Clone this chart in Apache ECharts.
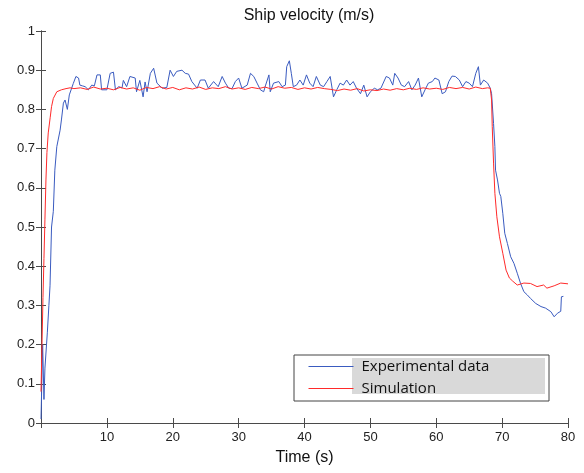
<!DOCTYPE html>
<html>
<head>
<meta charset="utf-8">
<script src="https://cdn.jsdelivr.net/npm/echarts@6/dist/echarts.min.js"></script>
<style>html,body{margin:0;padding:0;background:#fff}#c{width:584px;height:473px}</style>
</head>
<body>
<div id="c"></div>
<script>
// Experimental data (time s, velocity m/s)
var expTime = [0,0.1,0.25,0.45,0.6,0.85,0.96,1.2,1.37,1.6,1.87,2.1,2.4,2.9,3.1,3.4,3.65,4.0,4.3,4.6,4.9,5.3,5.7,5.9,6.3,6.7,7.2,7.7,8.1,8.5,9.0,9.2,10.0,10.5,11.0,11.3,11.8,12.3,12.5,13.0,13.5,14.3,14.5,15.0,15.5,15.8,16.1,16.6,17.1,17.6,18.4,19.1,19.6,20.1,20.6,21.4,21.9,22.4,22.9,23.7,24.2,24.9,25.4,26.2,26.9,27.5,28.0,28.5,29.0,29.5,30.0,30.5,31.3,31.8,32.3,32.8,33.3,33.8,34.1,34.6,34.8,35.3,36.1,36.6,37.1,37.3,37.7,38.0,38.3,38.8,39.3,39.8,40.3,40.8,41.3,41.8,42.4,42.9,43.4,43.9,44.2,44.4,44.9,45.4,45.9,46.4,46.9,47.4,47.9,48.5,49.0,49.5,50.0,50.6,51.1,51.6,52.4,52.9,53.4,53.7,54.2,54.7,55.2,55.8,56.3,56.8,57.3,57.8,58.3,58.8,59.4,59.8,60.4,60.9,61.4,61.9,62.4,62.9,63.5,64.0,64.5,65.0,65.5,66.0,66.4,66.7,67.2,67.5,67.8,68.2,68.4,68.7,68.9,69.0,69.3,69.6,69.8,70.1,70.4,70.8,71.3,71.8,72.3,72.8,73.3,73.8,74.3,75.1,75.9,76.6,77.4,77.9,78.4,78.9,79.0,79.3];
var expVel = [0.01,0.008,0.2,0.06,0.14,0.135,0.23,0.30,0.35,0.5,0.54,0.645,0.705,0.747,0.773,0.816,0.824,0.80,0.837,0.837,0.866,0.884,0.88,0.862,0.86,0.858,0.85,0.862,0.86,0.888,0.888,0.85,0.85,0.892,0.895,0.85,0.858,0.855,0.874,0.858,0.884,0.88,0.845,0.874,0.832,0.87,0.845,0.892,0.905,0.867,0.854,0.856,0.9,0.884,0.897,0.9,0.892,0.89,0.871,0.854,0.875,0.875,0.854,0.871,0.858,0.884,0.867,0.854,0.853,0.871,0.88,0.854,0.862,0.892,0.884,0.867,0.85,0.845,0.862,0.888,0.845,0.867,0.871,0.858,0.862,0.909,0.924,0.892,0.858,0.862,0.875,0.862,0.888,0.867,0.858,0.884,0.862,0.858,0.871,0.884,0.888,0.832,0.85,0.867,0.862,0.875,0.862,0.871,0.854,0.84,0.862,0.832,0.845,0.854,0.85,0.854,0.884,0.88,0.862,0.892,0.88,0.862,0.858,0.871,0.85,0.862,0.88,0.832,0.85,0.867,0.871,0.88,0.875,0.84,0.845,0.871,0.885,0.884,0.875,0.858,0.871,0.867,0.858,0.892,0.909,0.862,0.875,0.871,0.867,0.854,0.84,0.764,0.705,0.645,0.62,0.586,0.578,0.535,0.484,0.458,0.424,0.407,0.382,0.356,0.335,0.327,0.318,0.305,0.297,0.293,0.284,0.271,0.28,0.285,0.322,0.323];
// Simulation (time s, velocity m/s)
var simTime = [0,0.15,0.3,0.45,0.6,0.75,0.9,1.1,1.4,1.6,1.87,2.4,3.1,3.8,4.4,5,6,7,8,9,10,11,12,13,14,15,16,17,18,19,20,21,22,23,24,25,26,27,28,29,30,31,32,33,34,35,36,37,38,39,40,41,42,43,44,45,46,47,48,49,50,51,52,53,54,55,56,57,58,59,60,61,62,63,64,65,66,67,67.8,68.2,68.4,68.5,68.7,68.9,69.2,69.6,70.1,70.6,71.1,71.6,72.3,73.3,74.3,75.3,76.3,76.8,77.9,78.9,80];
var simVel = [0.08,0.2,0.32,0.42,0.52,0.62,0.69,0.74,0.78,0.807,0.828,0.845,0.85,0.853,0.855,0.853,0.855,0.851,0.857,0.852,0.854,0.85,0.856,0.852,0.855,0.849,0.856,0.853,0.858,0.852,0.856,0.85,0.855,0.852,0.857,0.851,0.855,0.853,0.858,0.852,0.855,0.851,0.856,0.853,0.857,0.852,0.858,0.854,0.856,0.851,0.855,0.852,0.856,0.853,0.851,0.848,0.852,0.849,0.853,0.847,0.85,0.848,0.852,0.849,0.853,0.85,0.854,0.851,0.855,0.852,0.854,0.851,0.856,0.853,0.856,0.852,0.857,0.853,0.855,0.854,0.824,0.756,0.663,0.586,0.526,0.475,0.433,0.39,0.37,0.362,0.352,0.357,0.356,0.348,0.352,0.344,0.35,0.357,0.355];
var xTicks = [0,10,20,30,40,50,60,70,80];
var yTicks = [0,0.1,0.2,0.3,0.4,0.5,0.6,0.7,0.8,0.9,1];

function pairs(t, v){ return t.map(function(x,i){ return [x, v[i]]; }); }

var axisColor = '#4a4a4a';
var blue = '#3a5bc0', red = '#ff2a2a';
var chart = echarts.init(document.getElementById('c'), null, {renderer:'canvas'});
var baseX = {
  type:'value', min:xTicks[0], max:xTicks[xTicks.length-1], interval:10,
  axisLine:{show:true, lineStyle:{color:axisColor, width:1}},
  axisTick:{show:true, inside:true, length:5, lineStyle:{color:axisColor}},
  splitLine:{show:false}
};
var baseY = {
  type:'value', min:yTicks[0], max:yTicks[yTicks.length-1], interval:0.1,
  axisLine:{show:true, lineStyle:{color:axisColor, width:1}},
  axisTick:{show:true, inside:true, length:5, lineStyle:{color:axisColor}},
  splitLine:{show:false}
};
chart.setOption({
  animation:false,
  backgroundColor:'#fff',
  title:{text:'Ship velocity (m/s)', left:304, textAlign:'center', top:3,
    textStyle:{fontFamily:'Liberation Sans', fontSize:16, fontWeight:'normal', color:'#111'}},
  grid:{left:41, right:16, top:31, bottom:50},
  xAxis:[
    Object.assign({}, baseX, {position:'bottom',
      name:'Time (s)', nameLocation:'middle', nameGap:27,
      nameTextStyle:{fontFamily:'Liberation Sans', fontSize:16, color:'#111'},
      axisLabel:{show:true, margin:8, fontFamily:'Liberation Sans', fontSize:13, color:'#222',
        formatter:function(v){ return v===0 ? '' : String(v); }}}),
    Object.assign({}, baseX, {position:'top', axisLabel:{show:false}})
  ],
  yAxis:[
    Object.assign({}, baseY, {position:'left',
      axisLabel:{show:true, margin:6, fontFamily:'Liberation Sans', fontSize:13, color:'#222',
        formatter:function(v){ return String(Math.round(v*10)/10); }}}),
    Object.assign({}, baseY, {position:'right', axisLabel:{show:false}})
  ],
  graphic:[
    {type:'rect', z:3, shape:{x:294, y:355, width:255, height:46},
      style:{fill:'#fff', stroke:'#444', lineWidth:1}},
    {type:'rect', z:4, shape:{x:352, y:358, width:193, height:36},
      style:{fill:'#d9d9d9'}}
  ],
  legend:{
    orient:'vertical', left:303, top:354, itemWidth:45, itemHeight:14, itemGap:7, z:10,
    itemStyle:{color:'transparent', borderWidth:0, opacity:0},
    lineStyle:{width:1},
    textStyle:{fontFamily:'Open Sans', fontSize:15, color:'#111', padding:[0,0,0,3]},
    data:['Experimental data','Simulation']
  },
  series:[
    {name:'Experimental data', type:'line', data:pairs(expTime, expVel), symbol:'none',
      lineStyle:{color:blue, width:1}, itemStyle:{color:blue}, z:2},
    {name:'Simulation', type:'line', data:pairs(simTime, simVel), symbol:'none',
      lineStyle:{color:red, width:1}, itemStyle:{color:red}, z:3}
  ]
});
</script>
</body>
</html>
